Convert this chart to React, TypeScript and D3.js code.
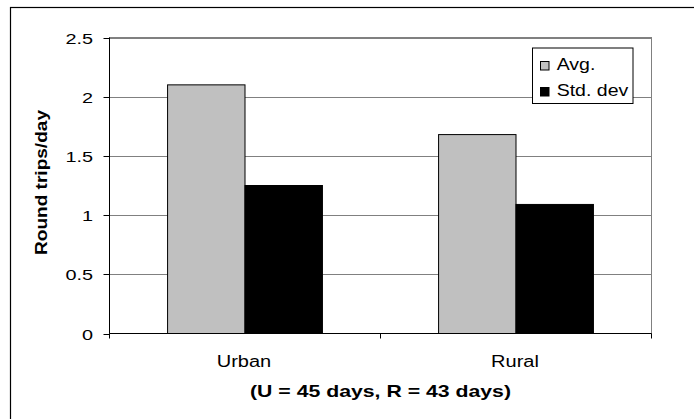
import React from "react";
import * as d3 from "d3";

// Round trips per day, by area type
const categories = ["Urban", "Rural"];
const seriesNames = ["Avg.", "Std. dev"];
const avgValues = [2.1, 1.68];
const stdValues = [1.25, 1.09];
const yTicks = [0, 0.5, 1, 1.5, 2, 2.5];
const yTickLabels = ["0", "0.5", "1", "1.5", "2", "2.5"];
const xTitle = "(U = 45 days, R = 43 days)";
const yTitle = "Round trips/day";

const seriesValues = [avgValues, stdValues];
const seriesFill = ["#C0C0C0", "#000000"];

const W = 694;
const H = 419;
const plot = { left: 109.5, right: 651.5, top: 37.5, bottom: 333.5 };
const FONT = "Arial, 'Liberation Sans', Helvetica, sans-serif";

export default function App() {
  const y = d3.scaleLinear().domain([0, 2.5]).range([plot.bottom, plot.top]);
  const x = d3.scaleBand<string>().domain(categories).range([plot.left, plot.right]).padding(0);
  const xs = d3
    .scaleBand<string>()
    .domain(seriesNames)
    .range([0, x.bandwidth()])
    .paddingInner(0)
    .paddingOuter(0.75);

  const bandEdges = [plot.left, ...categories.map((c) => (x(c) as number) + x.bandwidth())];

  return (
    <svg
      width={W}
      height={H}
      style={{ position: "fixed", left: 0, top: 0, background: "#fff" }}
      fontFamily={FONT}
    >
      <rect x={0} y={0} width={W} height={H} fill="#fff" />
      {/* chart frame */}
      <rect x={10.5} y={7.5} width={W + 20} height={H + 20} fill="none" stroke="#000" strokeWidth={1.2} />

      {/* plot area border */}
      <rect
        x={plot.left}
        y={plot.top}
        width={plot.right - plot.left}
        height={plot.bottom - plot.top}
        fill="#fff"
        stroke="#808080"
        strokeWidth={1}
      />

      {/* gridlines */}
      {yTicks.slice(1).map((t) => (
        <line
          key={"g" + t}
          x1={plot.left}
          x2={plot.right}
          y1={Math.round(y(t)) + 0.5}
          y2={Math.round(y(t)) + 0.5}
          stroke="#808080"
          strokeWidth={1}
        />
      ))}

      {/* bars */}
      {categories.map((c, ci) =>
        seriesNames.map((s, si) => {
          const v = seriesValues[si][ci];
          const bx = (x(c) as number) + (xs(s) as number);
          return (
            <rect
              key={c + s}
              x={bx}
              y={y(v)}
              width={xs.bandwidth()}
              height={y(0) - y(v)}
              fill={seriesFill[si]}
              stroke="#000"
              strokeWidth={1}
            />
          );
        })
      )}

      {/* axes */}
      <line x1={plot.left} x2={plot.left} y1={plot.top} y2={plot.bottom} stroke="#000" strokeWidth={1} />
      <line x1={plot.left} x2={plot.right} y1={plot.bottom} y2={plot.bottom} stroke="#000" strokeWidth={1} />
      {yTicks.map((t, i) => (
        <g key={"t" + t}>
          <line
            x1={plot.left - 6}
            x2={plot.left}
            y1={Math.round(y(t)) + 0.5}
            y2={Math.round(y(t)) + 0.5}
            stroke="#000"
          />
          <text
            transform={`translate(93,${y(t) + 6}) scale(1.28,1)`}
            textAnchor="end"
            fontSize={15.5}
            fill="#000"
          >
            {yTickLabels[i]}
          </text>
        </g>
      ))}
      {bandEdges.map((e, i) => (
        <line key={"xt" + i} x1={e} x2={e} y1={plot.bottom} y2={plot.bottom + 5} stroke="#000" />
      ))}
      {categories.map((c) => (
        <text
          key={"cl" + c}
          transform={`translate(${(x(c) as number) + x.bandwidth() / 2 - 1},366.7) scale(1.25,1)`}
          textAnchor="middle"
          fontSize={16}
          fill="#000"
        >
          {c}
        </text>
      ))}

      {/* axis titles */}
      <text
        transform={`translate(${(plot.left + plot.right) / 2},397.3) scale(1.25,1)`}
        textAnchor="middle"
        fontSize={17}
        fontWeight="bold"
        fill="#000"
      >
        {xTitle}
      </text>
      <text
        transform={`translate(46.7,182.5) rotate(-90) scale(1.17,1)`}
        textAnchor="middle"
        fontSize={16.3}
        fontWeight="bold"
        fill="#000"
      >
        {yTitle}
      </text>

      {/* legend */}
      <rect x={532.5} y={48} width={100.5} height={55.5} fill="#fff" stroke="#000" strokeWidth={1} />
      {seriesNames.map((s, i) => (
        <g key={"lg" + s}>
          <rect x={540.5} y={61.5 + i * 26} width={8.5} height={8.5} fill={seriesFill[i]} stroke="#000" strokeWidth={1} />
          <text
            transform={`translate(556.7,${70 + i * 26}) scale(1.22,1)`}
            fontSize={16}
            fill="#000"
          >
            {s}
          </text>
        </g>
      ))}
    </svg>
  );
}
